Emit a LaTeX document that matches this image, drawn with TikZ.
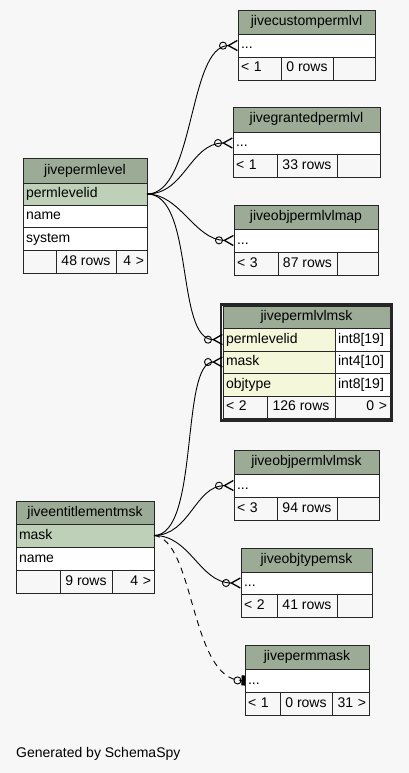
\documentclass[tikz,border=0pt]{standalone}
\usepackage{fontspec}
\setmainfont{Liberation Sans}
\usetikzlibrary{arrows.meta}

\definecolor{bgcol}{HTML}{F7F7F7}
\definecolor{headfill}{HTML}{9BAB96}
\definecolor{pkfill}{HTML}{BED1B8}
\definecolor{selfill}{HTML}{F4F7DA}
\definecolor{footfill}{HTML}{F7F7F7}
\definecolor{cellline}{HTML}{262626}

\begin{document}
\begin{tikzpicture}[x=1pt,y=-1pt,
  cell/.style={draw=cellline,line width=0.8pt,anchor=north west,inner xsep=3pt,inner ysep=0pt,
    outer sep=0pt,minimum height=23pt,text height=10pt,text depth=3pt,font=\fontsize{14}{16}\selectfont},
  head/.style={cell,fill=headfill,minimum height=24pt},
  pk/.style={cell,fill=pkfill,align=left},
  col/.style={cell,fill=white,align=left},
  sel/.style={cell,fill=selfill,align=left},
  foot/.style={cell,fill=footfill},
  conn/.style={line width=0.9pt,black},
  crowodot/.style={-{Circle[open,length=8pt,line width=0.9pt] Straight Barb[reversed,length=9pt,width=10pt,line width=1.3pt]}},
  teeodot/.style={-{Circle[open,length=8pt,line width=0.9pt] Rectangle[length=3.5pt,width=10pt]}}]
\useasboundingbox[fill=bgcol] (0,0) rectangle (409,773);

% jivecustompermlvl
\node[head,minimum width=137pt] (cpl) at (238,10) {jivecustompermlvl};
\node[col,text width=131pt] (cpl-row) at (238,34) {...};
\node[foot,text width=37pt,align=left] (cpl-f1) at (238,57) {< 1};
\node[foot,minimum width=52pt] (cpl-f2) at (281,57) {0 rows};
\node[foot,minimum width=42pt] (cpl-f3) at (333,57) {};

% jivegrantedpermlvl
\node[head,minimum width=147pt,minimum height=25pt] (gpl) at (233,107) {jivegrantedpermlvl};
\node[col,text width=141pt,minimum height=22pt] (gpl-row) at (233,132) {...};
\node[foot,text width=38pt,align=left] (gpl-f1) at (233,154) {< 1};
\node[foot,minimum width=60pt] (gpl-f2) at (277,154) {33 rows};
\node[foot,minimum width=43pt] (gpl-f3) at (337,154) {};

% jiveobjpermlvlmap
\node[head,minimum width=144pt] (opm) at (234,205) {jiveobjpermlvlmap};
\node[col,text width=138pt] (opm-row) at (234,229) {...};
\node[foot,text width=38pt,align=left] (opm-f1) at (234,252) {< 3};
\node[foot,minimum width=59pt] (opm-f2) at (278,252) {87 rows};
\node[foot,minimum width=41pt] (opm-f3) at (337,252) {};

% jivepermlevel
\node[head,minimum width=124pt,minimum height=25pt] (pl) at (23,158) {jivepermlevel};
\node[pk,text width=118pt,minimum height=22pt] (pl-id) at (23,183) {permlevelid};
\node[col,text width=118pt,minimum height=22pt] (pl-name) at (23,205) {name};
\node[col,text width=118pt] (pl-sys) at (23,227) {system};
\node[foot,minimum width=33pt] (pl-f1) at (23,250) {};
\node[foot,minimum width=60pt] (pl-f2) at (56,250) {48 rows};
\node[foot,text width=25pt,align=right] (pl-f3) at (116,250) {4 >};

% jivepermlvlmsk
\draw[cellline,line width=2.4pt] (221.2,304.5) rectangle (391.6,420.6);
\node[head,minimum width=167pt,minimum height=22pt] (plm) at (223,306) {jivepermlvlmsk};
\node[sel,text width=106pt] (plm-id) at (223,328) {permlevelid};
\node[col,text width=49pt] (plm-idt) at (335,328) {int8[19]};
\node[sel,text width=106pt,minimum height=22pt] (plm-mask) at (223,351) {mask};
\node[col,text width=49pt,minimum height=22pt] (plm-maskt) at (335,351) {int4[10]};
\node[sel,text width=106pt] (plm-ot) at (223,373) {objtype};
\node[col,text width=49pt] (plm-ott) at (335,373) {int8[19]};
\node[foot,text width=38pt,align=left,minimum height=22pt] (plm-f1) at (223,396) {< 2};
\node[foot,minimum width=68pt,minimum height=22pt] (plm-f2) at (267,396) {126 rows};
\node[foot,text width=49pt,align=right,minimum height=22pt] (plm-f3) at (335,396) {0 >};

% jiveentitlementmsk
\node[head,minimum width=138pt,minimum height=23pt] (em) at (16,501) {jiveentitlementmsk};
\node[pk,text width=132pt] (em-mask) at (16,524) {mask};
\node[col,text width=132pt] (em-name) at (16,547) {name};
\node[foot,minimum width=44pt] (em-f1) at (16,570) {};
\node[foot,minimum width=52pt] (em-f2) at (60,570) {9 rows};
\node[foot,text width=36pt,align=right] (em-f3) at (112,570) {4 >};

% jiveobjpermlvlmsk
\node[head,minimum width=145pt] (opk) at (234,450) {jiveobjpermlvlmsk};
\node[col,text width=139pt] (opk-row) at (234,474) {...};
\node[foot,text width=37pt,align=left] (opk-f1) at (234,497) {< 3};
\node[foot,minimum width=60pt] (opk-f2) at (277,497) {94 rows};
\node[foot,minimum width=42pt] (opk-f3) at (337,497) {};

% jiveobjtypemsk
\node[head,minimum width=131pt] (otm) at (241,548) {jiveobjtypemsk};
\node[col,text width=125pt,minimum height=22pt] (otm-row) at (241,572) {...};
\node[foot,text width=30pt,align=left] (otm-f1) at (241,594) {< 2};
\node[foot,minimum width=60pt] (otm-f2) at (277,594) {41 rows};
\node[foot,minimum width=35pt] (otm-f3) at (337,594) {};

% jivepermmask
\node[head,minimum width=124pt] (pmm) at (245,645) {jivepermmask};
\node[col,text width=118pt] (pmm-row) at (245,669) {...};
\node[foot,text width=29pt,align=left] (pmm-f1) at (245,692) {< 1};
\node[foot,minimum width=52pt] (pmm-f2) at (280,692) {0 rows};
\node[foot,text width=31pt,align=right] (pmm-f3) at (332,692) {31 >};

% relationships
\draw[conn,crowodot] (pl-id.east) .. controls (195,194) and (188,46) .. (cpl-row.west);
\draw[conn,crowodot] (pl-id.east) .. controls (185,194) and (190,143) .. (gpl-row.west);
\draw[conn,crowodot] (pl-id.east) .. controls (180,194) and (195,240) .. (opm-row.west);
\draw[conn,crowodot] (pl-id.east) .. controls (195,194) and (175,340) .. (plm-id.west);
\draw[conn,crowodot] (em-mask.east) .. controls (200,535) and (180,362) .. (plm-mask.west);
\draw[conn,crowodot] (em-mask.east) .. controls (190,535) and (195,486) .. (opk-row.west);
\draw[conn,crowodot] (em-mask.east) .. controls (190,535) and (200,583) .. (otm-row.west);
\draw[conn,teeodot,dash pattern=on 6pt off 5pt] (em-mask.east) .. controls (195,540) and (190,680) .. (pmm-row.west);

\node[anchor=base west,inner sep=0pt,font=\fontsize{14}{16}\selectfont] (gen) at (16,757) {Generated by SchemaSpy};
\end{tikzpicture}
\end{document}
